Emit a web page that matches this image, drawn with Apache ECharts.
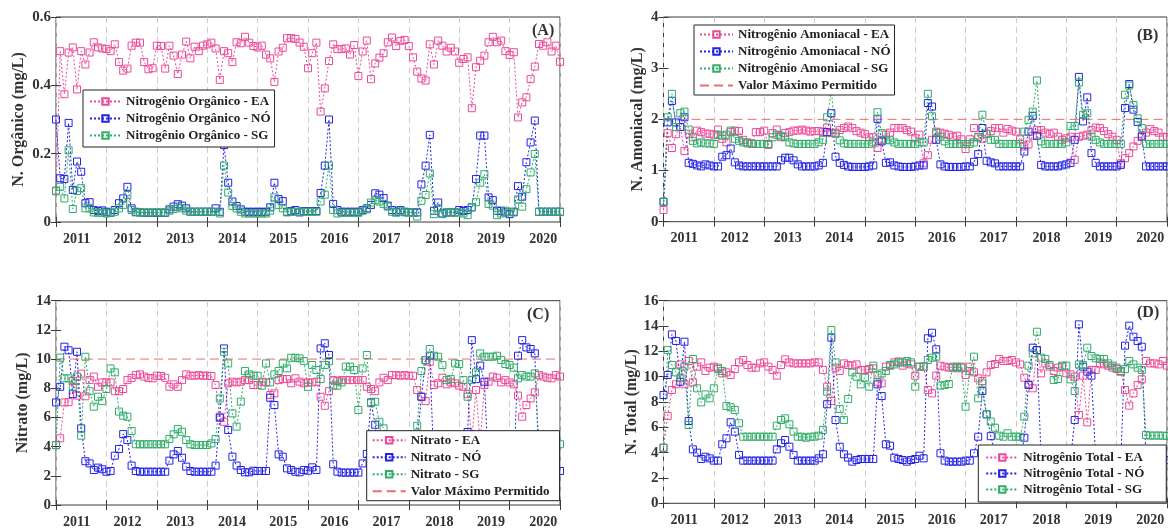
<!DOCTYPE html>
<html>
<head>
<meta charset="utf-8">
<script src="https://cdn.jsdelivr.net/npm/echarts@6/dist/echarts.min.js"></script>
<style>
  html, body { margin: 0; background: #fff; }
  #chart { width: 1168px; height: 530px; }
</style>
</head>
<body>
<div id="chart"></div>
<script>
// monthly samples, Jan 2011 .. Jan 2021 (index 0..120)
var yearLabels = ['2011', '2012', '2013', '2014', '2015', '2016', '2017', '2018', '2019', '2020'];
var yearLabelPos = [4.9, 17.0, 29.6, 41.9, 54.1, 66.3, 78.7, 91.3, 103.6, 116.0];

// (A) Nitrogenio organico
var orgEA = [0.09, 0.50, 0.374, 0.496, 0.511, 0.388, 0.50, 0.461, 0.496, 0.526, 0.511, 0.508,
  0.506, 0.50, 0.52, 0.468, 0.443, 0.449, 0.516, 0.525, 0.525, 0.468, 0.447, 0.45,
  0.516, 0.515, 0.449, 0.516, 0.487, 0.433, 0.49, 0.528, 0.479, 0.513, 0.50, 0.516,
  0.52, 0.525, 0.508, 0.416, 0.50, 0.494, 0.468, 0.526, 0.523, 0.542, 0.525, 0.515,
  0.511, 0.516, 0.49, 0.479, 0.41, 0.499, 0.51, 0.538, 0.538, 0.536, 0.525, 0.513,
  0.45, 0.494, 0.525, 0.323, 0.391, 0.471, 0.52, 0.506, 0.506, 0.508, 0.49, 0.518,
  0.427, 0.499, 0.531, 0.418, 0.464, 0.481, 0.494, 0.526, 0.54, 0.515, 0.53, 0.533,
  0.515, 0.482, 0.44, 0.42, 0.414, 0.52, 0.461, 0.531, 0.516, 0.499, 0.51, 0.499,
  0.466, 0.477, 0.482, 0.333, 0.453, 0.472, 0.487, 0.526, 0.542, 0.526, 0.531, 0.50,
  0.489, 0.497, 0.306, 0.35, 0.365, 0.418, 0.455, 0.521, 0.516, 0.526, 0.499, 0.516,
  0.469];
var orgNO = [0.30, 0.128, 0.126, 0.29, 0.094, 0.177, 0.147, 0.055, 0.058, 0.035, 0.032, 0.034,
  0.03, 0.027, 0.035, 0.055, 0.069, 0.103, 0.04, 0.03, 0.028, 0.027, 0.027, 0.027,
  0.027, 0.027, 0.027, 0.037, 0.045, 0.052, 0.048, 0.04, 0.03, 0.03, 0.03, 0.03,
  0.03, 0.03, 0.04, 0.03, 0.225, 0.115, 0.06, 0.047, 0.037, 0.03, 0.03, 0.03,
  0.03, 0.03, 0.03, 0.043, 0.115, 0.067, 0.061, 0.03, 0.032, 0.035, 0.028, 0.032,
  0.032, 0.032, 0.032, 0.085, 0.165, 0.30, 0.053, 0.035, 0.03, 0.03, 0.03, 0.03,
  0.03, 0.035, 0.04, 0.05, 0.084, 0.08, 0.07, 0.048, 0.035, 0.03, 0.035, 0.03,
  0.028, 0.028, 0.028, 0.11, 0.165, 0.255, 0.033, 0.057, 0.025, 0.028, 0.028, 0.028,
  0.035, 0.032, 0.035, 0.043, 0.126, 0.253, 0.253, 0.072, 0.064, 0.033, 0.033, 0.028,
  0.023, 0.03, 0.105, 0.074, 0.175, 0.233, 0.297, 0.03, 0.03, 0.03, 0.03, 0.03,
  0.03];
var orgSG = [0.092, 0.103, 0.069, 0.21, 0.038, 0.091, 0.099, 0.04, 0.04, 0.028, 0.027, 0.027,
  0.025, 0.027, 0.03, 0.04, 0.05, 0.079, 0.035, 0.028, 0.028, 0.028, 0.028, 0.028,
  0.028, 0.028, 0.028, 0.033, 0.038, 0.043, 0.04, 0.033, 0.03, 0.03, 0.03, 0.03,
  0.03, 0.03, 0.03, 0.025, 0.165, 0.086, 0.047, 0.04, 0.03, 0.025, 0.025, 0.025,
  0.025, 0.025, 0.025, 0.033, 0.072, 0.05, 0.04, 0.028, 0.03, 0.03, 0.03, 0.03,
  0.03, 0.03, 0.03, 0.06, 0.08, 0.165, 0.035, 0.025, 0.027, 0.027, 0.027, 0.027,
  0.027, 0.033, 0.037, 0.057, 0.064, 0.06, 0.053, 0.045, 0.03, 0.027, 0.033, 0.028,
  0.028, 0.028, 0.016, 0.062, 0.079, 0.142, 0.023, 0.04, 0.023, 0.028, 0.028, 0.028,
  0.028, 0.025, 0.02, 0.043, 0.058, 0.115, 0.14, 0.053, 0.048, 0.02, 0.025, 0.033,
  0.03, 0.028, 0.066, 0.045, 0.096, 0.145, 0.199, 0.03, 0.03, 0.03, 0.03, 0.03,
  0.03];

// (B) Nitrogenio amoniacal
var amoEA = [0.23, 1.73, 1.44, 1.71, 1.85, 1.38, 1.72, 1.65, 1.78, 1.75, 1.72, 1.72,
  1.70, 1.80, 1.62, 1.55, 1.75, 1.78, 1.77, 1.60, 1.55, 1.53, 1.75, 1.75,
  1.78, 1.50, 1.73, 1.80, 1.65, 1.73, 1.75, 1.78, 1.78, 1.80, 1.78, 1.76,
  1.77, 1.77, 1.75, 1.84, 1.73, 1.74, 1.79, 1.83, 1.86, 1.83, 1.77, 1.74,
  1.71, 1.65, 1.65, 1.44, 1.60, 1.70, 1.74, 1.83, 1.83, 1.83, 1.79, 1.76,
  1.63, 1.70, 1.14, 1.30, 1.60, 1.76, 1.74, 1.72, 1.70, 1.66, 1.68, 1.61,
  1.42, 1.61, 1.83, 1.65, 1.62, 1.71, 1.77, 1.83, 1.83, 1.74, 1.81, 1.78,
  1.76, 1.61, 1.47, 1.51, 1.68, 1.79, 1.79, 1.74, 1.71, 1.74, 1.66, 1.60,
  1.63, 1.66, 1.21, 1.66, 1.68, 1.70, 1.79, 1.84, 1.83, 1.77, 1.71, 1.66,
  1.60, 1.14, 1.24, 1.34, 1.47, 1.58, 1.68, 1.74, 1.81, 1.77, 1.74, 1.66,
  1.65];
var amoNO = [0.39, 1.94, 2.36, 1.94, 1.85, 2.04, 1.15, 1.13, 1.10, 1.08, 1.12, 1.10,
  1.08, 1.08, 1.27, 1.30, 1.43, 1.16, 1.10, 1.08, 1.08, 1.08, 1.08, 1.08,
  1.08, 1.08, 1.08, 1.08, 1.20, 1.25, 1.25, 1.20, 1.12, 1.08, 1.08, 1.08,
  1.08, 1.10, 1.15, 1.75, 2.12, 1.27, 1.15, 1.11, 1.08, 1.07, 1.07, 1.07,
  1.07, 1.08, 1.10, 2.01, 1.57, 1.15, 1.16, 1.10, 1.08, 1.07, 1.07, 1.07,
  1.08, 1.10, 1.10, 2.32, 2.25, 1.60, 1.12, 1.08, 1.07, 1.07, 1.07, 1.07,
  1.08, 1.08, 1.17, 1.32, 1.83, 1.19, 1.16, 1.14, 1.08, 1.08, 1.08, 1.08,
  1.08, 1.08, 1.37, 1.76, 2.07, 1.68, 1.11, 1.08, 1.08, 1.08, 1.08, 1.10,
  1.12, 1.15, 1.60, 2.83, 1.96, 2.43, 1.34, 1.15, 1.08, 1.08, 1.08, 1.08,
  1.08, 1.11, 2.22, 2.69, 2.19, 1.95, 1.66, 1.08, 1.08, 1.08, 1.08, 1.08,
  1.08];
var amoSG = [0.39, 2.04, 2.50, 1.85, 2.12, 2.15, 1.80, 1.58, 1.53, 1.55, 1.53, 1.53,
  1.52, 1.70, 1.68, 1.70, 1.78, 1.62, 1.58, 1.55, 1.53, 1.52, 1.52, 1.52,
  1.52, 1.52, 1.65, 1.70, 1.68, 1.65, 1.55, 1.53, 1.52, 1.52, 1.52, 1.52,
  1.52, 1.55, 1.60, 2.04, 2.55, 1.72, 1.59, 1.53, 1.52, 1.52, 1.52, 1.52,
  1.52, 1.52, 1.55, 2.14, 1.73, 1.60, 1.59, 1.55, 1.52, 1.52, 1.52, 1.52,
  1.52, 1.55, 1.55, 2.50, 2.06, 1.74, 1.66, 1.57, 1.52, 1.52, 1.52, 1.52,
  1.52, 1.52, 1.55, 1.65, 2.09, 1.72, 1.60, 1.60, 1.52, 1.52, 1.52, 1.52,
  1.52, 1.52, 1.76, 1.99, 2.15, 2.76, 1.57, 1.52, 1.52, 1.52, 1.52, 1.52,
  1.55, 1.87, 1.87, 2.72, 2.09, 2.12, 1.66, 1.60, 1.55, 1.52, 1.52, 1.52,
  1.52, 1.52, 2.48, 2.66, 2.28, 2.02, 1.83, 1.52, 1.52, 1.52, 1.52, 1.52,
  1.52];
var limitAmo = 2;

// (C) Nitrato
var nitEA = [4.1, 4.57, 7.03, 7.05, 8.5, 7.5, 9.0, 7.45, 8.56, 8.8, 8.1, 8.4,
  8.4, 8.4, 7.8, 7.8, 7.95, 8.56, 8.7, 8.9, 8.95, 8.8, 8.7, 8.68,
  8.86, 8.84, 8.72, 8.1, 8.27, 8.1, 8.56, 8.95, 8.86, 8.86, 8.9, 8.86,
  8.86, 8.84, 8.22, 6.05, 5.7, 8.34, 8.45, 8.4, 8.45, 8.56, 8.56, 8.22,
  8.22, 8.45, 8.4, 7.54, 7.65, 8.56, 8.63, 8.63, 8.34, 8.68, 8.45, 8.34,
  8.4, 8.4, 8.45, 7.42, 6.8, 7.8, 8.56, 8.5, 8.56, 8.56, 8.56, 8.56,
  8.56, 8.56, 8.1, 7.95, 7.8, 8.4, 8.72, 8.56, 8.9, 8.9, 8.86, 8.9,
  8.86, 8.86, 7.88, 7.42, 7.12, 9.82, 8.22, 8.34, 8.72, 8.27, 8.4, 8.34,
  8.18, 8.1, 7.6, 4.5, 7.88, 4.2, 8.22, 8.45, 8.8, 8.72, 8.4, 8.56,
  8.4, 8.27, 7.5, 6.05, 6.85, 7.3, 7.72, 8.9, 8.8, 8.72, 8.68, 8.9,
  8.8];
var nitNO = [7.03, 8.1, 10.85, 10.6, 7.6, 10.5, 5.25, 3.0, 2.85, 2.4, 2.56, 2.45,
  2.28, 2.33, 3.38, 3.84, 4.86, 4.45, 2.7, 2.33, 2.28, 2.28, 2.28, 2.28,
  2.28, 2.28, 2.28, 3.04, 3.47, 3.7, 3.24, 2.63, 2.33, 2.28, 2.28, 2.28,
  2.28, 2.28, 2.7, 5.98, 10.73, 5.14, 3.31, 2.7, 2.4, 2.24, 2.24, 2.35,
  2.33, 2.33, 2.33, 7.35, 6.85, 3.47, 3.31, 2.51, 2.4, 2.28, 2.24, 2.4,
  2.35, 2.58, 2.4, 10.73, 11.08, 10.28, 2.79, 2.28, 2.22, 2.22, 2.22, 2.22,
  2.22, 2.85, 3.5, 7.03, 5.5, 2.5, 2.3, 2.3, 2.3, 2.3, 2.3, 2.3,
  2.3, 2.3, 4.5, 7.42, 9.93, 10.23, 2.4, 2.3, 2.3, 2.3, 2.3, 2.3,
  2.3, 2.5, 5.0, 11.3, 8.63, 9.55, 8.45, 2.4, 2.3, 2.3, 2.3, 2.3,
  2.3, 2.3, 10.23, 11.3, 10.8, 10.69, 10.39, 2.4, 2.3, 2.3, 2.3, 2.33,
  2.33];
var nitSG = [4.11, 10.1, 8.68, 8.68, 8.1, 8.8, 4.75, 10.16, 7.8, 6.74, 7.42, 7.12,
  7.95, 9.36, 9.09, 6.4, 6.12, 6.05, 5.07, 4.16, 4.16, 4.16, 4.16, 4.16,
  4.16, 4.16, 4.16, 4.52, 4.84, 5.2, 5.02, 4.45, 4.16, 4.11, 4.11, 4.11,
  4.11, 4.22, 4.52, 7.3, 10.5, 9.7, 6.28, 5.37, 7.08, 9.18, 8.95, 8.86,
  8.86, 8.18, 9.7, 8.4, 8.95, 9.18, 9.7, 9.36, 10.09, 10.09, 10.05, 9.86,
  8.1, 9.59, 9.25, 8.63, 9.59, 9.86, 8.18, 8.18, 8.4, 9.48, 9.48, 9.25,
  6.51, 9.36, 10.28, 6.97, 7.08, 5.7, 5.25, 4.7, 4.2, 4.2, 4.2, 4.2,
  4.2, 4.2, 5.43, 9.18, 9.93, 10.69, 10.23, 10.16, 9.59, 8.56, 8.63, 9.7,
  9.66, 8.56, 7.42, 8.56, 9.09, 10.39, 10.16, 10.16, 10.16, 10.23, 9.93, 9.66,
  9.59, 9.41, 8.68, 8.9, 8.8, 8.8, 9.02, 4.2, 4.2, 4.2, 4.16, 4.16,
  4.16];
var limitNit = 10;

// (D) Nitrogenio total
var totEA = [4.39, 6.9, 8.95, 9.4, 10.97, 9.4, 11.24, 9.55, 10.79, 11.13, 10.45, 10.71,
  10.79, 10.71, 10.26, 10.34, 10.13, 10.6, 11.13, 11.32, 10.92, 10.71, 10.71, 11.05,
  11.13, 10.79, 10.53, 10.08, 10.92, 11.37, 11.13, 11.05, 11.05, 11.05, 11.05, 11.05,
  11.13, 11.13, 10.53, 9.21, 8.08, 10.71, 10.45, 11.05, 10.92, 10.87, 10.97, 10.53,
  10.53, 10.6, 10.66, 9.6, 9.47, 10.79, 10.87, 11.13, 11.2, 10.87, 11.05, 10.97,
  10.08, 10.79, 10.79, 8.95, 8.68, 10.08, 10.87, 10.79, 10.71, 10.79, 10.66, 10.79,
  10.13, 10.79, 10.34, 9.87, 9.66, 10.34, 10.92, 11.0, 11.4, 11.24, 11.24, 11.32,
  11.13, 10.97, 9.92, 9.39, 9.08, 12.1, 10.26, 11.05, 10.79, 10.45, 10.71, 10.79,
  10.26, 10.18, 10.0, 6.97, 10.08, 6.39, 10.53, 10.53, 11.05, 10.97, 10.87, 10.71,
  10.6, 10.45, 8.95, 7.71, 8.68, 9.34, 9.79, 11.24, 11.05, 11.05, 10.97, 11.24,
  10.87];
var totNO = [8.55, 10.13, 13.34, 12.82, 9.6, 12.76, 6.5, 4.26, 4.0, 3.5, 3.68, 3.55,
  3.37, 3.37, 4.66, 5.13, 6.4, 5.66, 3.82, 3.37, 3.37, 3.37, 3.37, 3.37,
  3.37, 3.37, 3.37, 4.26, 4.74, 5.0, 4.47, 3.82, 3.37, 3.37, 3.37, 3.37,
  3.37, 3.55, 3.87, 7.82, 13.08, 6.58, 4.47, 3.87, 3.61, 3.29, 3.42, 3.5,
  3.5, 3.5, 3.5, 9.39, 8.47, 4.66, 4.55, 3.6, 3.5, 3.42, 3.29, 3.42,
  3.5, 3.76, 3.55, 13.03, 13.47, 12.16, 3.95, 3.37, 3.29, 3.29, 3.29, 3.29,
  3.37, 3.37, 3.95, 5.26, 8.87, 7.03, 5.3, 4.0, 3.4, 3.4, 3.4, 3.4,
  3.4, 3.4, 5.18, 9.34, 12.29, 12.1, 3.5, 3.4, 3.4, 3.4, 3.4, 3.4,
  3.4, 3.4, 6.58, 14.13, 10.79, 10.4, 10.08, 3.5, 3.4, 3.4, 3.4, 3.4,
  3.4, 3.4, 12.45, 14.03, 13.16, 12.82, 12.37, 3.4, 3.4, 3.4, 3.4, 3.4,
  3.4];
var totSG = [4.39, 12.1, 10.92, 10.34, 9.92, 10.79, 6.18, 11.4, 9.08, 7.97, 8.6, 8.29,
  9.08, 10.6, 10.45, 7.68, 7.58, 7.37, 6.32, 5.26, 5.26, 5.26, 5.26, 5.26,
  5.26, 5.26, 5.26, 6.13, 6.58, 6.71, 6.24, 5.66, 5.26, 5.26, 5.18, 5.26,
  5.26, 5.34, 5.79, 8.82, 13.68, 11.13, 7.45, 6.58, 8.24, 10.34, 10.0, 9.39,
  9.92, 9.21, 10.87, 10.13, 10.26, 10.45, 10.92, 10.97, 11.13, 11.13, 11.24, 11.13,
  9.21, 10.79, 10.79, 11.32, 11.5, 11.58, 9.29, 9.34, 9.42, 10.71, 10.79, 10.71,
  7.63, 10.45, 11.58, 8.29, 9.47, 7.03, 6.45, 5.97, 5.34, 5.26, 5.53, 5.26,
  5.26, 5.26, 6.84, 10.87, 11.84, 13.55, 11.5, 11.4, 10.92, 9.74, 9.82, 10.87,
  10.87, 9.79, 8.87, 10.97, 10.92, 12.29, 11.63, 11.45, 11.4, 11.4, 11.05, 10.87,
  10.71, 10.39, 10.6, 11.24, 10.97, 10.71, 10.53, 5.39, 5.35, 5.35, 5.35, 5.34,
  5.32];

var serif = '"Liberation Serif", "Times New Roman", serif';
var cols = ['#ec4a98', '#2323e6', '#2fad69'];
var colMax = '#f26a6a';
var lastIdx = orgEA.length - 1;
var limitName = 'Valor Máximo Permitido';

var panels = [
  { grid: { left: 56, top: 17, width: 504, height: 205 }, yMax: 0.6, yStep: 0.2,
    yName: 'N. Orgânico (mg/L)', nameGap: 29, tag: '(A)', tagPos: [532, 23],
    names: ['Nitrogênio Orgânico - EA', 'Nitrogênio Orgânico - NÓ', 'Nitrogênio Orgânico - SG'],
    values: [orgEA, orgNO, orgSG], limit: null,
    legend: { left: 83, top: 90, padding: [4, 4, 4, 6], itemGap: 2, itemWidth: 31 } },
  { grid: { left: 663.5, top: 17, width: 503.5, height: 204.7 }, yMax: 4, yStep: 1,
    yName: 'N. Amoniacal (mg/L)', nameGap: 18, tag: '(B)', tagPos: [1137, 28],
    names: ['Nitrogênio Amoniacal - EA', 'Nitrogênio Amoniacal - NÓ', 'Nitrogênio Amoniacal - SG'],
    values: [amoEA, amoNO, amoSG], limit: limitAmo,
    legend: { left: 694, top: 25, padding: [2, 4, 2, 5], itemGap: 2, itemWidth: 33 } },
  { grid: { left: 56, top: 300.7, width: 504, height: 204.3 }, yMax: 14, yStep: 2,
    yName: 'Nitrato (mg/L)', nameGap: 25, tag: '(C)', tagPos: [527, 307],
    names: ['Nitrato - EA', 'Nitrato - NÓ', 'Nitrato - SG'],
    values: [nitEA, nitNO, nitSG], limit: limitNit,
    legend: { left: 366.7, top: 430.7, padding: [2, 10, 2, 5], itemGap: 2, itemWidth: 33 } },
  { grid: { left: 663.5, top: 300.7, width: 503.5, height: 202.6 }, yMax: 16, yStep: 2,
    yName: 'N. Total (mg/L)', nameGap: 24, tag: '(D)', tagPos: [1137, 305],
    names: ['Nitrogênio Total - EA', 'Nitrogênio Total - NÓ', 'Nitrogênio Total - SG'],
    values: [totEA, totNO, totSG], limit: null,
    legend: { left: 978.3, top: 445, padding: [5, 22, 5, 7], itemGap: 1, itemWidth: 32 } }
];

var option = { animation: false, backgroundColor: '#fff',
  title: [], grid: [], xAxis: [], yAxis: [], legend: [], series: [] };

panels.forEach(function (p, g) {
  option.grid.push(Object.assign({ show: true, borderColor: '#3a3a3a', borderWidth: 1 }, p.grid));

  var tick = { inside: true, length: 5, lineStyle: { color: '#3a3a3a' } };
  option.xAxis.push({
    type: 'value', gridIndex: g, position: 'bottom', min: 0, max: lastIdx, interval: 12,
    axisLine: { show: false }, axisTick: tick,
    splitLine: { show: true, lineStyle: { color: '#cdcdcd', type: [6, 4] } },
    axisLabel: {
      customValues: yearLabelPos, margin: 10,
      formatter: function (v) { var k = yearLabelPos.indexOf(v); return k < 0 ? '' : yearLabels[k]; },
      fontFamily: serif, fontWeight: 'bold', fontSize: 14, color: '#333'
    }
  });
  option.xAxis.push({
    type: 'value', gridIndex: g, position: 'top', min: 0, max: lastIdx, interval: 12,
    axisLine: { show: false }, axisTick: tick, splitLine: { show: false }, axisLabel: { show: false }
  });
  option.yAxis.push({
    type: 'value', gridIndex: g, position: 'left', min: 0, max: p.yMax, interval: p.yStep,
    axisLine: { show: false }, axisTick: tick, splitLine: { show: false },
    axisLabel: { margin: 5, fontFamily: serif, fontWeight: 'bold', fontSize: 15, color: '#333' },
    name: p.yName, nameLocation: 'middle', nameGap: p.nameGap,
    nameTextStyle: { fontFamily: serif, fontWeight: 'bold', fontSize: 16, color: '#333' }
  });
  option.yAxis.push({
    type: 'value', gridIndex: g, position: 'right', min: 0, max: p.yMax, interval: p.yStep,
    axisLine: { show: false }, axisTick: tick, splitLine: { show: false }, axisLabel: { show: false }
  });

  option.title.push({
    text: p.tag, left: p.tagPos[0], top: p.tagPos[1], padding: 0,
    textStyle: { fontFamily: serif, fontWeight: 'bold', fontSize: 16, color: '#333' }
  });

  var legendData = p.names.slice();
  p.values.forEach(function (arr, s) {
    option.series.push({
      type: 'line', name: p.names[s], xAxisIndex: 2 * g, yAxisIndex: 2 * g,
      data: arr.map(function (v, i) { return [i, v]; }),
      symbol: 'rect', symbolSize: 7, showAllSymbol: true, clip: false,
      lineStyle: { color: cols[s], width: 1, type: [2, 2] },
      itemStyle: { color: 'rgba(255,255,255,0)', borderColor: cols[s], borderWidth: 1 },
      emphasis: { disabled: true }
    });
  });
  if (p.limit !== null) {
    // legend entry: dashed line only, no marker
    legendData.push({ name: limitName, itemStyle: { color: 'rgba(0,0,0,0)', borderWidth: 0, opacity: 0 } });
    option.series.push({
      type: 'line', name: limitName, xAxisIndex: 2 * g, yAxisIndex: 2 * g,
      data: [[0, p.limit], [lastIdx, p.limit]], symbol: 'none',
      lineStyle: { color: colMax, width: 1, type: [9, 5] }, itemStyle: { color: colMax },
      emphasis: { disabled: true }, silent: true
    });
  }

  option.legend.push(Object.assign({
    data: legendData, orient: 'vertical', itemHeight: 8, selectedMode: false,
    backgroundColor: '#fff', borderColor: '#222', borderWidth: 1, borderRadius: 0, z: 10,
    textStyle: { fontFamily: serif, fontWeight: 'bold', fontSize: 13, color: '#222', lineHeight: 15 }
  }, p.legend));
});

var chart = echarts.init(document.getElementById('chart'));
chart.setOption(option);
</script>
</body>
</html>
